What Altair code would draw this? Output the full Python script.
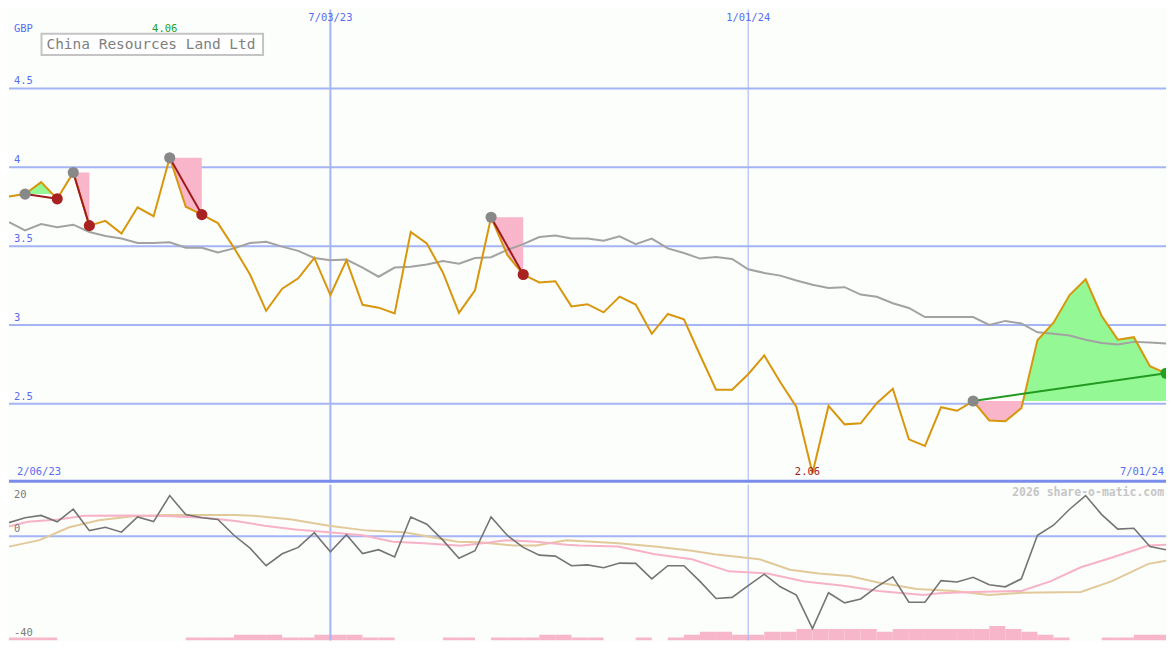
import altair as alt
import pandas as pd

# ---------------- data (weekly index j = 0..72) ----------------
price = [3.814, 3.83, 3.906, 3.80, 3.967, 3.63, 3.66, 3.58, 3.746, 3.69,
         4.06, 3.75, 3.70, 3.646, 3.49, 3.32, 3.09, 3.23, 3.296, 3.425,
         3.19, 3.41, 3.128, 3.11, 3.073, 3.59, 3.517, 3.333, 3.077, 3.22,
         3.683, 3.445, 3.32, 3.27, 3.277, 3.118, 3.132, 3.08, 3.18, 3.13,
         2.944, 3.07, 3.036, 2.81, 2.59, 2.59, 2.688, 2.807, 2.637, 2.48,
         2.06, 2.487, 2.37, 2.377, 2.504, 2.596, 2.275, 2.233, 2.479, 2.456,
         2.518, 2.395, 2.39, 2.473, 2.903, 3.015, 3.19, 3.29, 3.057, 2.907,
         2.923, 2.739, 2.694]
moving_avg = [3.652, 3.60, 3.64, 3.62, 3.636, 3.59, 3.564, 3.548, 3.52, 3.52,
              3.525, 3.49, 3.49, 3.46, 3.486, 3.52, 3.527, 3.497, 3.47, 3.425,
              3.41, 3.415, 3.364, 3.306, 3.364, 3.37, 3.384, 3.405, 3.388, 3.425,
              3.43, 3.476, 3.513, 3.558, 3.568, 3.548, 3.548, 3.534, 3.562, 3.513,
              3.548, 3.486, 3.456, 3.421, 3.431, 3.419, 3.353, 3.33, 3.313, 3.282,
              3.255, 3.235, 3.24, 3.193, 3.179, 3.138, 3.108, 3.05, 3.05, 3.05,
              3.05, 3.0, 3.026, 3.01, 2.954, 2.944, 2.934, 2.907, 2.886, 2.877,
              2.893, 2.889, 2.883]
momentum = [5.3, 7.2, 8.1, 5.6, 10.5, 2.2, 3.5, 1.6, 7.5, 5.7,
            15.8, 8.4, 7.2, 6.5, 0.4, -4.6, -11.4, -6.8, -4.3, 1.4,
            -6.0, 0.6, -6.7, -5.2, -8.0, 7.5, 4.7, -1.5, -8.5, -5.6,
            7.5, 0.4, -4.3, -7.3, -7.7, -11.4, -11.1, -12.2, -10.4, -10.5,
            -16.5, -11.4, -11.4, -17.5, -24.1, -23.7, -19.1, -14.7, -19.6, -22.8,
            -35.8, -21.9, -25.8, -24.3, -19.6, -15.7, -25.6, -25.6, -17.2, -17.7,
            -15.9, -18.8, -19.6, -16.5, 0.4, 4.3, 10.5, 15.8, 8.4, 2.8,
            3.1, -4.0, -5.2]
pink_j = [0, 1.17, 3.05, 4.69, 7.74, 10.1, 12.2, 14.1, 15.9, 17.8, 19.9, 22.0, 23.9,
          25.8, 28.1, 30.0, 30.9, 32.8, 34.7, 35.5, 37.9, 40.2, 42.5, 44.8, 47.2,
          49.5, 51.8, 54.1, 56.9, 57.9, 60.0, 63.0, 64.8, 66.7, 68.6, 70.9, 72]
pink_v = [3.8, 5.6, 6.5, 8.0, 8.1, 7.8, 7.2, 5.9, 4.1, 2.6, 1.6, 0.4, -2.1,
          -2.7, -3.7, -2.3, -1.5, -2.1, -3.3, -3.6, -4.0, -7.0, -8.9, -13.6, -14.4,
          -17.5, -19.1, -21.2, -22.8, -22.1, -21.6, -21.2, -17.5, -12.0, -8.3, -3.6, -3.3]
tan_j = [0, 1.9, 3.75, 5.6, 7.7, 9.8, 14.1, 15.2, 17.6, 19.9, 22.3, 24.6, 27.9,
         29.3, 31.4, 32.8, 34.7, 35.5, 37.9, 40.2, 42.5, 43.9, 46.7, 48.6, 50.4,
         52.3, 54.1, 56.5, 58.8, 61.0, 63.0, 66.7, 68.6, 70.9, 72]
tan_v = [-4.0, -1.5, 3.5, 6.2, 7.8, 8.3, 8.3, 8.0, 6.5, 4.1, 2.2, 1.6, -2.1,
         -2.3, -3.6, -3.6, -1.5, -1.8, -2.7, -4.0, -5.6, -7.0, -8.9, -13.0, -14.4,
         -15.4, -17.9, -20.4, -21.2, -22.8, -21.9, -21.6, -17.5, -10.7, -9.5]
volume_level = [1, 1, 1, 0, 0, 0, 0, 0, 0, 0, 0, 1, 1, 1, 2, 2, 2, 1, 1, 2,
                2, 2, 1, 1, 0, 0, 0, 1, 1, 0, 1, 1, 1, 2, 2, 1, 1, 0, 0, 1,
                0, 1, 2, 3, 3, 2, 2, 3, 3, 4, 4, 4, 4, 4, 3, 4, 4, 4, 4, 4,
                4, 5, 4, 3, 2, 1, 0, 0, 1, 1, 2, 2]
trade_entry = [1, 4, 10, 30, 60]
trade_exit = [3, 5, 12, 32, 72]
trade_open = [False, False, False, False, True]
grid_levels = [2.5, 3.0, 3.5, 4.0, 4.5]
grid_labels = ["2.5", "3", "3.5", "4", "4.5"]
date_j = [20, 46]
date_labels = ["7/03/23", "1/01/24"]
date_widths = [2, 1]
start_label = "2/06/23"
end_label = "7/01/24"
high_label = "4.06"
low_label = "2.06"
title = "China Resources Land Ltd"
currency = "GBP"
watermark = "2026 share-o-matic.com"

# ---------------- layout ----------------
W = 1159
H1 = 474
H2 = 156
SX = W / 1175.0
SY = (H1 + H2) / 650.0
FONT = "DejaVu Sans Mono"
BLUE_GRID = "#a4b4f4"
BLUE_TEXT = "#5a6cf0"
BG = "#fcfefc"

N = len(price)
j_all = list(range(N))
xs = alt.Scale(domain=[0, N - 1], nice=False, zero=False)
ys = alt.Scale(domain=[2.0, 5.0], nice=False, zero=False)
ys2 = alt.Scale(domain=[-40.4, 20.0], nice=False, zero=False)

price_df = pd.DataFrame({"j": j_all, "p": price, "ma": moving_avg})
grid_df = pd.DataFrame({"lvl": grid_levels, "lab": grid_labels})
date_df = pd.DataFrame({"j": date_j, "lab": date_labels, "w": date_widths})

# trade fills: area between price and entry level, split at crossings
fill_rows = []
line_rows = []
dot_rows = []
for t, (e, x, op) in enumerate(zip(trade_entry, trade_exit, trade_open)):
    L = price[e]
    pts = []
    for j in range(e, x + 1):
        if j > e:
            p0, p1 = price[j - 1], price[j]
            if (p0 - L) * (p1 - L) < 0:
                pts.append((j - 1 + (L - p0) / (p1 - p0), L))
        pts.append((j, price[j]))
    for jj, p in pts:
        fill_rows.append({"trade": t, "j": jj, "hi": max(p, L), "lo": min(p, L), "lvl": L})
    col = "#229a22" if op else "#a01c1c"
    line_rows.append({"trade": t, "j": e, "p": L, "col": col})
    line_rows.append({"trade": t, "j": x, "p": price[x], "col": col})
    dot_rows.append({"j": e, "p": L, "col": "#888888"})
    dot_rows.append({"j": x, "p": price[x], "col": "#22a022" if op else "#a82222"})
fill_df = pd.DataFrame(fill_rows)
line_df = pd.DataFrame(line_rows)
dot_df = pd.DataFrame(dot_rows)

X = alt.X("j:Q", scale=xs, axis=None)

hgrid = alt.Chart(grid_df).mark_rule(color=BLUE_GRID, strokeWidth=2).encode(
    y=alt.Y("lvl:Q", scale=ys, axis=None))
vgrid = alt.Chart(date_df).mark_rule(color=BLUE_GRID).encode(
    x=X, strokeWidth=alt.StrokeWidth("w:Q", scale=None))
sep = alt.Chart(pd.DataFrame({"a": [0]})).mark_rect(color="#7a8cec").encode(
    x=alt.value(0), x2=alt.value(W), y=alt.value(H1 - 3), y2=alt.value(H1))

green_fill = alt.Chart(fill_df).mark_area(color="#94f894", opacity=1, clip=True).encode(
    x=X, y=alt.Y("hi:Q", scale=ys, axis=None), y2="lvl:Q", detail="trade:N")
pink_fill = alt.Chart(fill_df).mark_area(color="#f9b6ca", opacity=1, clip=True).encode(
    x=X, y=alt.Y("lo:Q", scale=ys, axis=None), y2="lvl:Q", detail="trade:N")

ma_line = alt.Chart(price_df).mark_line(color="#a2a2a2", strokeWidth=2, clip=True).encode(
    x=X, y=alt.Y("ma:Q", scale=ys, axis=None))
price_line = alt.Chart(price_df).mark_line(color="#d8960c", strokeWidth=2, clip=True).encode(
    x=X, y=alt.Y("p:Q", scale=ys, axis=None))
trade_lines = alt.Chart(line_df).mark_line(strokeWidth=2, clip=True).encode(
    x=X, y=alt.Y("p:Q", scale=ys, axis=None),
    color=alt.Color("col:N", scale=None), detail="trade:N")
dots = alt.Chart(dot_df).mark_circle(size=125, opacity=1, clip=True).encode(
    x=X, y=alt.Y("p:Q", scale=ys, axis=None), color=alt.Color("col:N", scale=None))

ytick_text = alt.Chart(grid_df).mark_text(
    align="left", baseline="middle", dy=-7, font=FONT, fontSize=10.5, color=BLUE_TEXT).encode(
    x=alt.value(5), y=alt.Y("lvl:Q", scale=ys, axis=None), text="lab:N")
date_text = alt.Chart(date_df).mark_text(
    align="center", baseline="middle", font=FONT, fontSize=10.5, color=BLUE_TEXT).encode(
    x=X, y=alt.value(8.5), text="lab:N")
gbp_text = alt.Chart(pd.DataFrame({"t": [currency]})).mark_text(
    align="left", baseline="middle", font=FONT, fontSize=10.5, color=BLUE_TEXT).encode(
    x=alt.value(5), y=alt.value(19.5), text="t:N")
hi_text = alt.Chart(pd.DataFrame({"j": [price.index(max(price))], "t": [high_label]})).mark_text(
    align="center", baseline="middle", dx=-5, font=FONT, fontSize=10.5, color="#22a022").encode(
    x=X, y=alt.value(19.5), text="t:N")
lo_text = alt.Chart(pd.DataFrame({"j": [price.index(min(price))], "t": [low_label]})).mark_text(
    align="center", baseline="middle", dx=-5, font=FONT, fontSize=10.5, color="#a01818").encode(
    x=X, y=alt.value(478 * SY), text="t:N")
start_text = alt.Chart(pd.DataFrame({"t": [start_label]})).mark_text(
    align="left", baseline="middle", font=FONT, fontSize=10.5, color=BLUE_TEXT).encode(
    x=alt.value(8 * SX), y=alt.value(478 * SY), text="t:N")
end_text = alt.Chart(pd.DataFrame({"t": [end_label]})).mark_text(
    align="right", baseline="middle", font=FONT, fontSize=10.5, color=BLUE_TEXT).encode(
    x=alt.value(1173 * SX), y=alt.value(478 * SY), text="t:N")
title_df = pd.DataFrame({"t": [title]})
title_box = alt.Chart(title_df).mark_rect(fill="white", stroke="#c4c4c4", strokeWidth=2).encode(
    x=alt.value(33 * SX), x2=alt.value(258 * SX), y=alt.value(25 * SY), y2=alt.value(47 * SY))
title_text = alt.Chart(title_df).mark_text(
    align="left", baseline="middle", font=FONT, fontSize=14.5, color="#808080").encode(
    x=alt.value(38 * SX), y=alt.value(36.5 * SY), text="t:N")

upper = alt.layer(
    hgrid, vgrid, green_fill, pink_fill, ma_line, price_line, trade_lines, dots,
    ytick_text, date_text, gbp_text, hi_text, lo_text, start_text, end_text,
    title_box, title_text, sep
).properties(width=W, height=H1)

# ---------------- lower panel ----------------
osc_df = pd.DataFrame({"j": j_all, "v": momentum})
pink_df = pd.DataFrame({"j": pink_j, "v": pink_v})
tan_df = pd.DataFrame({"j": tan_j, "v": tan_v})
vol_df = pd.DataFrame({"j0": list(range(len(volume_level))),
                       "j1": [i + 1 for i in range(len(volume_level))],
                       "v": volume_level})
vol_df = vol_df[vol_df["v"] > 0]

vol_bars = alt.Chart(vol_df).mark_rect(color="#f8b6ca", clip=True).encode(
    x=alt.X("j0:Q", scale=xs, axis=None), x2="j1:Q",
    y=alt.Y("v:Q", scale=alt.Scale(domain=[0, H2 / 2.9], nice=False), axis=None),
    y2=alt.datum(0))
zero_rule = alt.Chart(pd.DataFrame({"v": [0]})).mark_rule(color=BLUE_GRID, strokeWidth=2).encode(
    y=alt.Y("v:Q", scale=ys2, axis=None))
vgrid2 = alt.Chart(date_df).mark_rule(color=BLUE_GRID).encode(
    x=X, strokeWidth=alt.StrokeWidth("w:Q", scale=None))
tan_line = alt.Chart(tan_df).mark_line(color="#e2c99a", strokeWidth=2, clip=True).encode(
    x=X, y=alt.Y("v:Q", scale=ys2, axis=None))
pink_line = alt.Chart(pink_df).mark_line(color="#f8b2c8", strokeWidth=2, clip=True).encode(
    x=X, y=alt.Y("v:Q", scale=ys2, axis=None))
osc_line = alt.Chart(osc_df).mark_line(color="#747474", strokeWidth=1.6, clip=True).encode(
    x=X, y=alt.Y("v:Q", scale=ys2, axis=None))


def osc_label(val, dy):
    return alt.Chart(pd.DataFrame({"v": [val], "t": [str(val)]})).mark_text(
        align="left", baseline="middle", dy=dy, font=FONT, fontSize=10.5, color="#7a7a7a").encode(
        x=alt.value(5), y=alt.Y("v:Q", scale=ys2, axis=None), text="t:N")


wm_text = alt.Chart(pd.DataFrame({"t": [watermark]})).mark_text(
    align="right", baseline="middle", font=FONT, fontSize=11.5, fontWeight="bold",
    color="#c6c6c6").encode(x=alt.value(1173 * SX), y=alt.value(9 * SY), text="t:N")

lower = alt.layer(
    vol_bars, zero_rule, vgrid2, tan_line, pink_line, osc_line,
    osc_label(20, 10), osc_label(0, -7), osc_label(-40, -6), wm_text
).resolve_scale(y="independent").properties(width=W, height=H2)

chart = alt.vconcat(upper, lower, spacing=0).properties(
    padding=0, background=BG
).configure_view(stroke=None).configure_concat(spacing=0)

chart.save("out.html", embed_options={"renderer": "svg", "actions": False})
